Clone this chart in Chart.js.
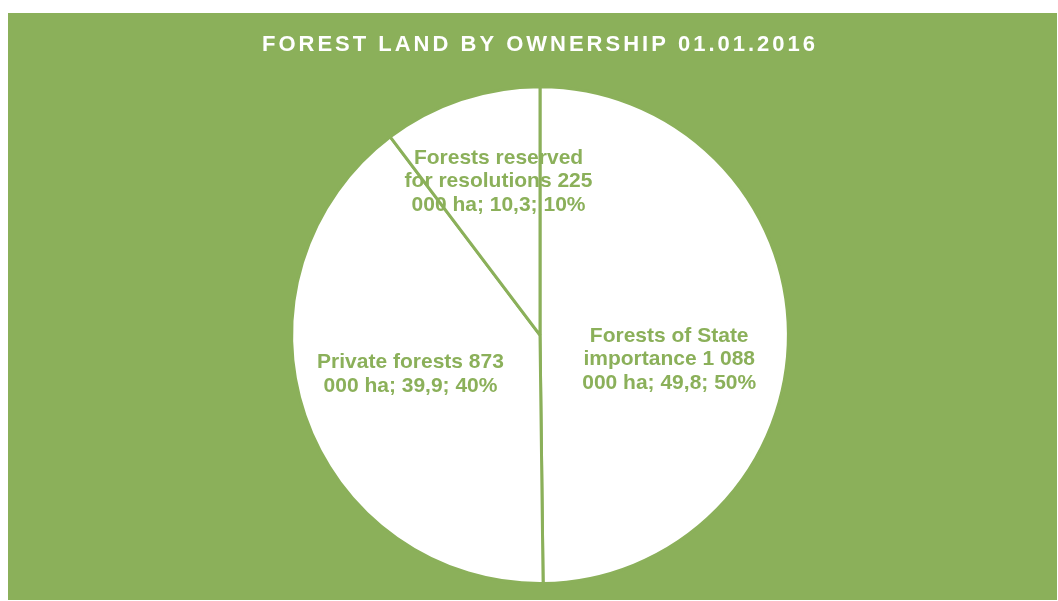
<!DOCTYPE html>
<html>
<head>
<meta charset="utf-8">
<script src="https://cdn.jsdelivr.net/npm/chart.js@4/dist/chart.umd.min.js"></script>
<style>
  html, body { margin: 0; padding: 0; background: #fff; }
  #wrap {
    position: absolute; left: 8px; top: 13px;
    width: 1049px; height: 587px;
    background: #8BB05A;
  }
</style>
</head>
<body>
<div id="wrap"><canvas id="chart"></canvas></div>
<script>
const titleText = 'FOREST LAND BY OWNERSHIP 01.01.2016';
const categories = [
  'Forests of State importance 1 088 000 ha',
  'Private forests 873 000 ha',
  'Forests reserved for resolutions 225 000 ha'
];
const shares = [49.8, 39.9, 10.3];

const green = '#8BB05A';
const labelFont = 'bold 21px "Liberation Sans", Arial, sans-serif';

// nudges from the arc midpoint, like Excel's best-fit placement
const labelNudge = [[5, 25], [-12, -1], [-2, -36]];

function wrapText(ctx, text, maxW) {
  const words = text.split(' ');
  const lines = [];
  let cur = '';
  words.forEach(w => {
    const test = cur ? cur + ' ' + w : w;
    if (cur && ctx.measureText(test).width > maxW) {
      lines.push(cur);
      cur = w;
    } else {
      cur = test;
    }
  });
  if (cur) lines.push(cur);
  return lines;
}

const sliceLabels = {
  id: 'sliceLabels',
  beforeDraw(chart) {
    chart.ctx.letterSpacing = '3px'; // spaced-out title
  },
  afterDatasetsDraw(chart) {
    const ctx = chart.ctx;
    const meta = chart.getDatasetMeta(0);
    const data = chart.data.datasets[0].data;
    const total = data.reduce((a, b) => a + b, 0);
    ctx.save();
    ctx.letterSpacing = '0px';
    ctx.font = labelFont;
    ctx.fillStyle = green;
    ctx.textAlign = 'center';
    ctx.textBaseline = 'middle';
    meta.data.forEach((arc, i) => {
      const v = data[i];
      const pct = Math.round(v / total * 100);
      const txt = chart.data.labels[i] + '; ' + String(v).replace('.', ',') + '; ' + pct + '%';
      const lines = wrapText(ctx, txt, 195);
      const p = arc.tooltipPosition();
      const x = p.x + labelNudge[i][0];
      const y = p.y + labelNudge[i][1];
      const lh = 23.5;
      lines.forEach((ln, k) => {
        ctx.fillText(ln, x, y + (k - (lines.length - 1) / 2) * lh);
      });
    });
    ctx.restore();
  }
};

new Chart(document.getElementById('chart'), {
  type: 'pie',
  data: {
    labels: categories,
    datasets: [{
      data: shares,
      backgroundColor: '#FFFFFF',
      borderColor: green,
      borderWidth: 3
    }]
  },
  options: {
    responsive: true,
    maintainAspectRatio: false,
    animation: false,
    layout: { padding: { left: 15, right: 0, top: 0, bottom: 15 } },
    plugins: {
      legend: { display: false },
      tooltip: { enabled: false },
      title: {
        display: true,
        text: titleText,
        color: '#FFFFFF',
        font: { family: '"Liberation Sans", Arial, sans-serif', size: 22, weight: 'bold' },
        padding: { top: 18.8, bottom: 27 }
      }
    }
  },
  plugins: [sliceLabels]
});
</script>
</body>
</html>
